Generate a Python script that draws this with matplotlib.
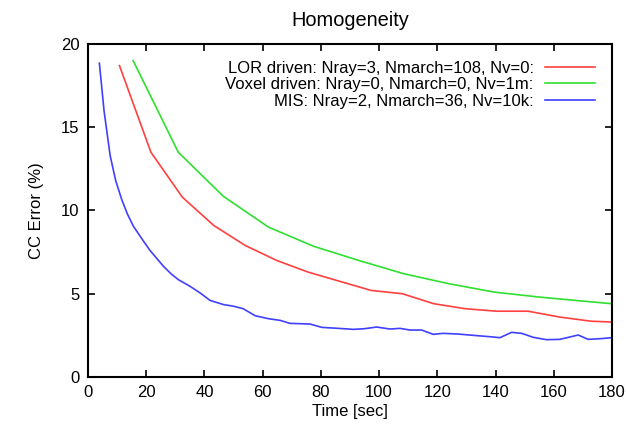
import numpy as np
import matplotlib
matplotlib.use('Agg')
import matplotlib.pyplot as plt

plt.rcParams['font.family'] = ['Liberation Sans', 'DejaVu Sans']
plt.rcParams['font.size'] = 12

# LOR driven
t_lor = [10.8, 21.6, 32.4, 43.2, 54.0, 64.8, 75.6, 86.4, 97.2, 108.0,
         118.8, 129.6, 140.4, 151.2, 162.0, 172.8, 180.0]
e_lor = [18.7, 13.5, 10.8, 9.1, 7.9, 7.0, 6.3, 5.75, 5.2, 5.0,
         4.4, 4.1, 3.95, 3.95, 3.6, 3.35, 3.3]

# Voxel driven
t_vox = [15.5, 31.0, 46.5, 62.0, 77.5, 93.0, 108.5, 124.0, 139.5, 155.0, 170.5, 180.0]
e_vox = [19.0, 13.5, 10.85, 9.0, 7.85, 7.0, 6.2, 5.6, 5.1, 4.8, 4.55, 4.4]

# MIS
t_mis = [3.9, 5.5, 7.6, 9.5, 11.6, 13.5, 15.6, 18.5, 21.3, 25.9, 28.5, 31.0,
         35.0, 38.5, 41.9, 46.5, 50.0, 53.3, 57.4, 62.0, 66.0, 69.4, 76.3,
         80.3, 86.0, 91.2, 95.0, 99.2, 103.7, 107.2, 110.6, 114.6, 118.6,
         122.0, 127.0, 132.4, 138.0, 141.5, 145.5, 149.0, 153.0, 157.5,
         162.1, 168.4, 171.8, 176.0, 180.0]
e_mis = [18.85, 16.0, 13.3, 11.8, 10.65, 9.8, 9.05, 8.3, 7.6, 6.65, 6.2, 5.85,
         5.45, 5.05, 4.6, 4.35, 4.25, 4.1, 3.68, 3.5, 3.4, 3.22, 3.18,
         2.98, 2.92, 2.86, 2.9, 3.0, 2.88, 2.92, 2.82, 2.82, 2.56,
         2.62, 2.58, 2.5, 2.42, 2.36, 2.68, 2.62, 2.38, 2.24,
         2.26, 2.52, 2.26, 2.3, 2.36]

labels = ['LOR driven: Nray=3, Nmarch=108, Nv=0:',
          'Voxel driven: Nray=0, Nmarch=0, Nv=1m:',
          'MIS: Nray=2, Nmarch=36, Nv=10k:']

fig = plt.figure(figsize=(6.26, 4.30), dpi=100)
ax = fig.add_axes([0.1406, 0.1233, 0.837, 0.7744])

ax.plot(t_lor, e_lor, color='#ff4040', lw=1.2, label=labels[0])
ax.plot(t_vox, e_vox, color='#30e030', lw=1.2, label=labels[1])
ax.plot(t_mis, e_mis, color='#4040ff', lw=1.2, label=labels[2])

ax.set_xlim(0, 180)
ax.set_ylim(0, 20)
ax.set_xticks(np.arange(0, 181, 20))
ax.set_yticks(np.arange(0, 21, 5))
ax.tick_params(direction='in', top=True, right=True, length=5, width=1.2, pad=6)
for s in ax.spines.values():
    s.set_linewidth(1.5)

ax.set_xlabel('Time [sec]', labelpad=3)
ax.set_ylabel('CC Error (%)', labelpad=12)
ax.set_title('Homogeneity', pad=13)

leg = ax.legend(loc='upper right', frameon=False, markerfirst=False,
                handlelength=3.0, handletextpad=0.7, labelspacing=0.1,
                borderaxespad=0.6, alignment='right')
for t in leg.get_texts():
    t.set_ha('right')

fig.savefig('out.png', dpi=100)
